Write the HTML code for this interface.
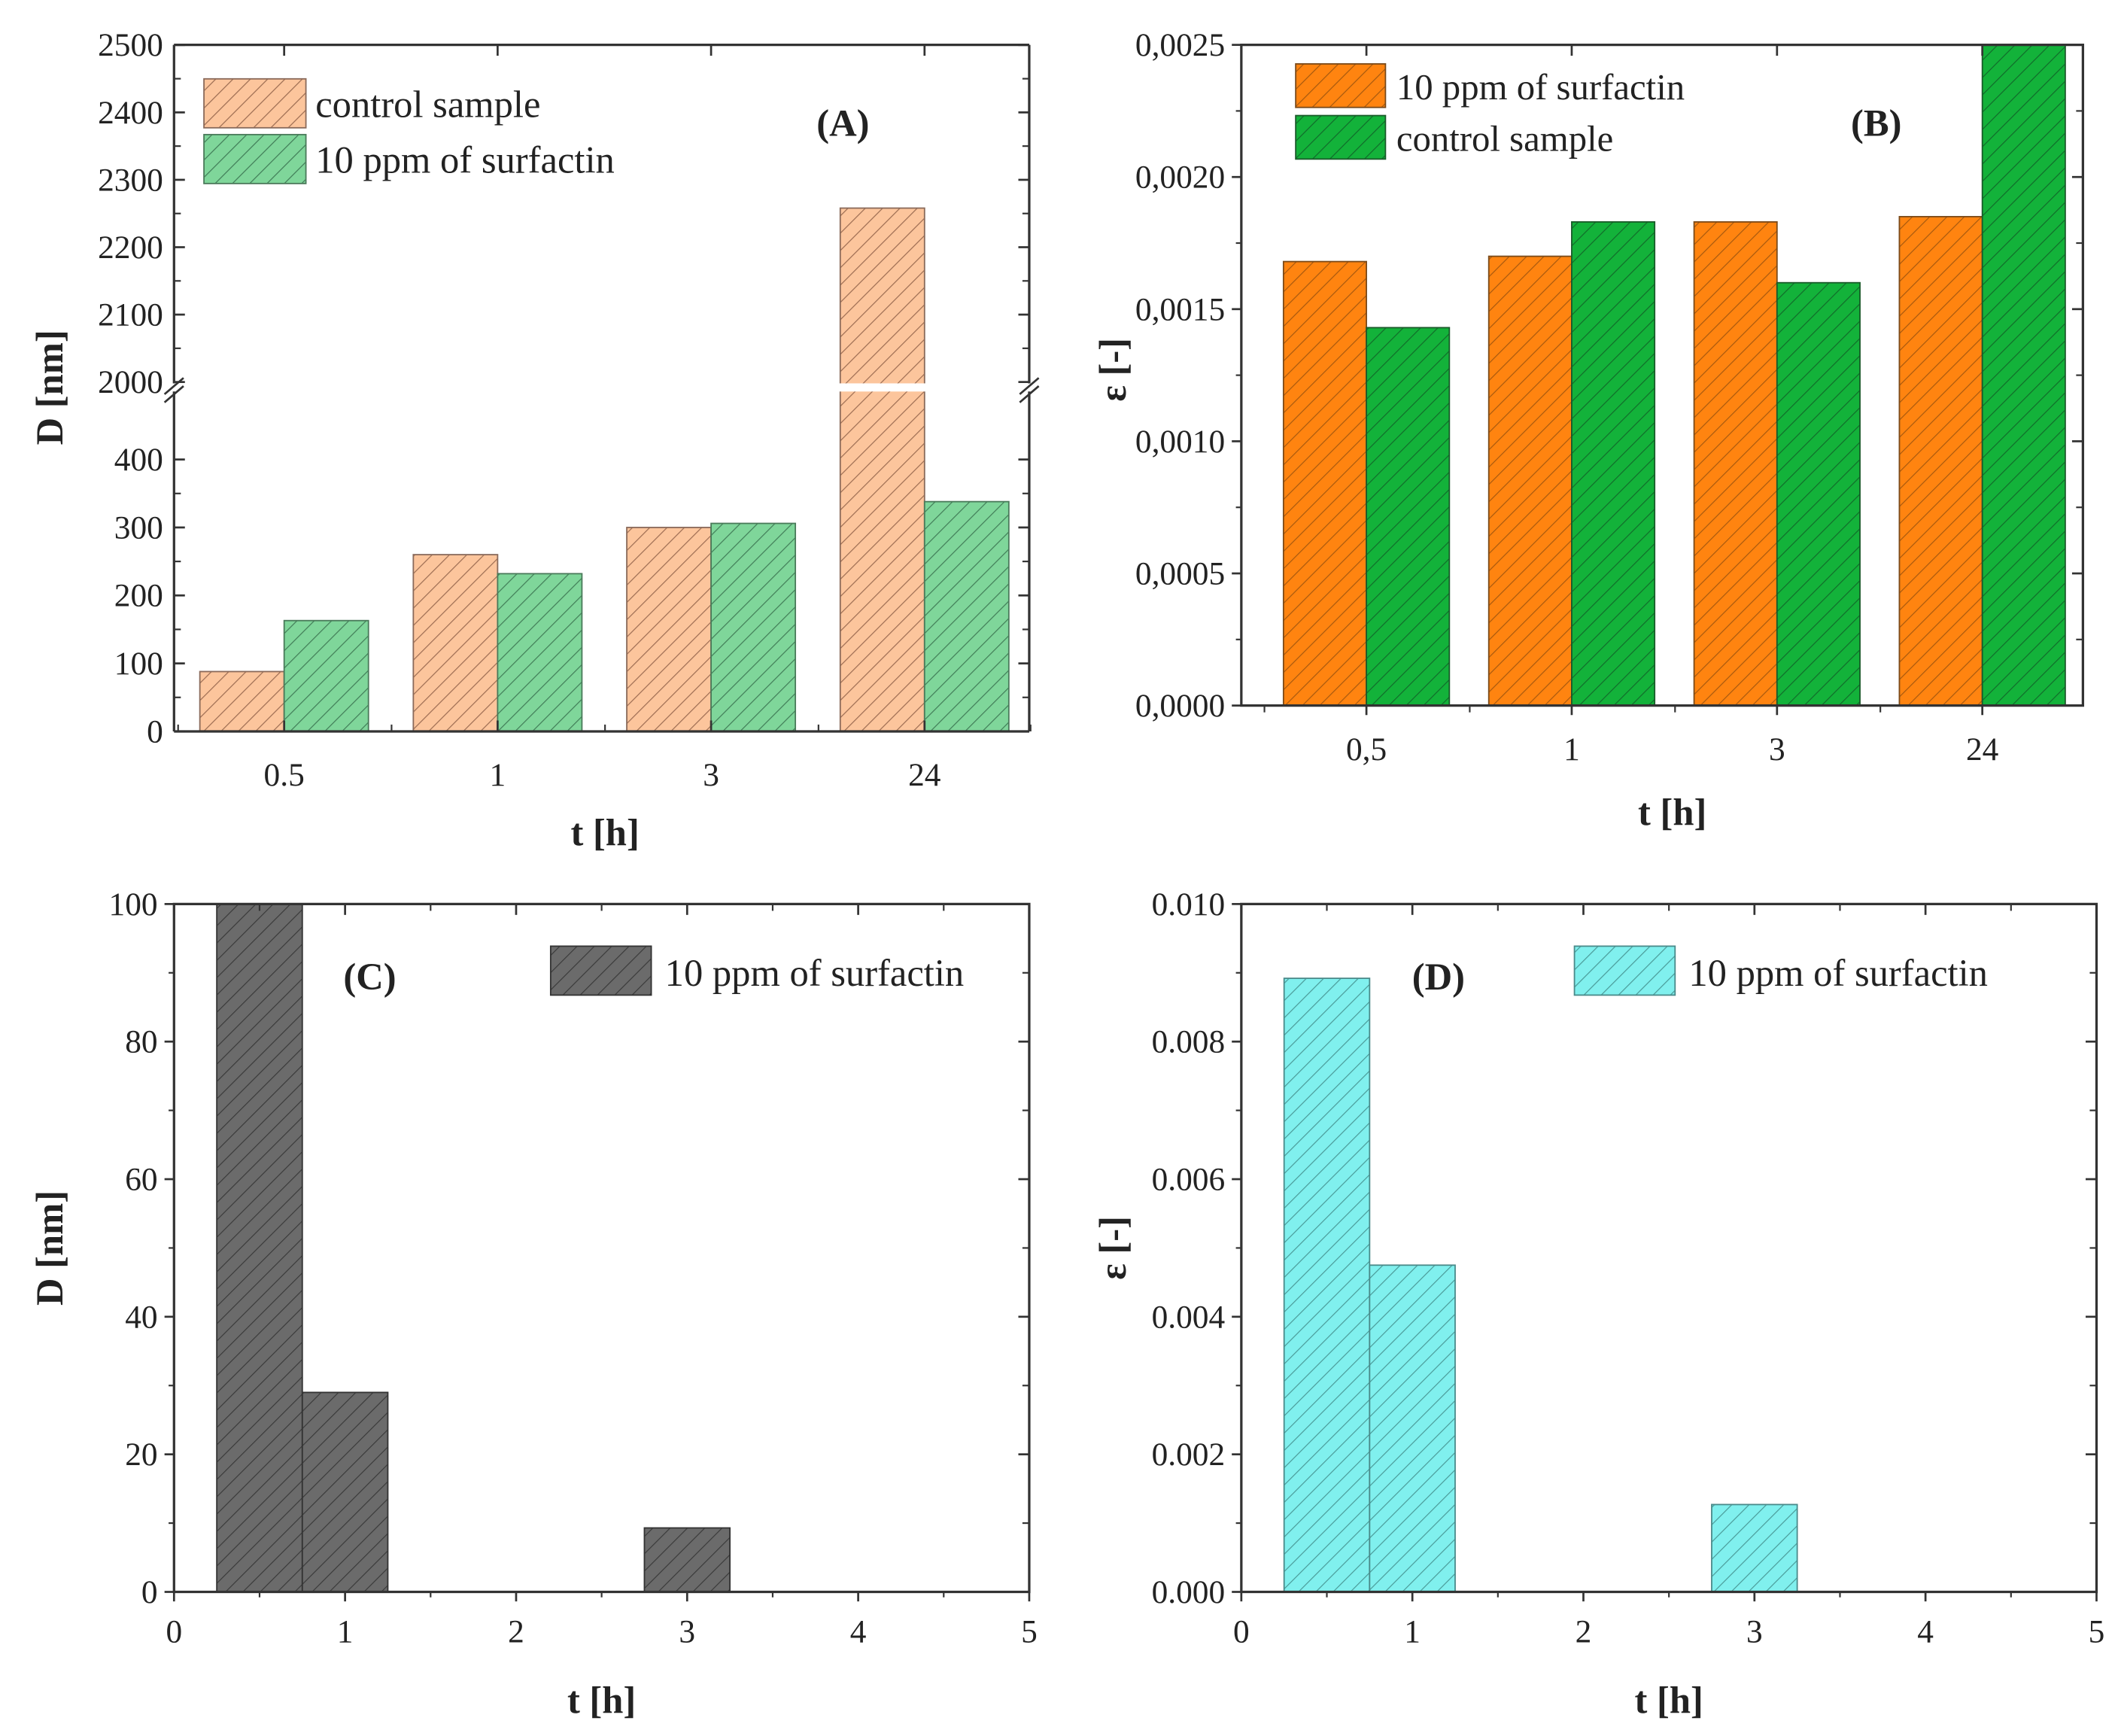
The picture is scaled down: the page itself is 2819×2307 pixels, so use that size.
<!DOCTYPE html>
<html><head><meta charset="utf-8"><style>
html,body{margin:0;padding:0;background:#fff}
svg{display:block}
text{font-family:"Liberation Serif",serif;fill:#222}
</style></head><body>
<svg id="fig" width="2819" height="2307" viewBox="0 0 1560 1277" preserveAspectRatio="none" xmlns="http://www.w3.org/2000/svg">
<defs>
<pattern id="hA1" patternUnits="userSpaceOnUse" width="9" height="9" patternTransform="rotate(45)"><rect width="9" height="9" fill="#fcc59c"/><line x1="0" y1="0" x2="0" y2="9" stroke="#9a6a50" stroke-width="1.3"/></pattern>
<pattern id="hA2" patternUnits="userSpaceOnUse" width="9" height="9" patternTransform="rotate(45)"><rect width="9" height="9" fill="#7fd69a"/><line x1="0" y1="0" x2="0" y2="9" stroke="#3f7a55" stroke-width="1.3"/></pattern>
<pattern id="hB1" patternUnits="userSpaceOnUse" width="9" height="9" patternTransform="rotate(45)"><rect width="9" height="9" fill="#ff8410"/><line x1="0" y1="0" x2="0" y2="9" stroke="#a5580f" stroke-width="1.3"/></pattern>
<pattern id="hB2" patternUnits="userSpaceOnUse" width="9" height="9" patternTransform="rotate(45)"><rect width="9" height="9" fill="#13b23a"/><line x1="0" y1="0" x2="0" y2="9" stroke="#116a2a" stroke-width="1.3"/></pattern>
<pattern id="hC" patternUnits="userSpaceOnUse" width="9" height="9" patternTransform="rotate(45)"><rect width="9" height="9" fill="#6b6b6b"/><line x1="0" y1="0" x2="0" y2="9" stroke="#3a3a3a" stroke-width="1.3"/></pattern>
<pattern id="hD" patternUnits="userSpaceOnUse" width="9" height="9" patternTransform="rotate(45)"><rect width="9" height="9" fill="#80f0ee"/><line x1="0" y1="0" x2="0" y2="9" stroke="#4a9a98" stroke-width="1.3"/></pattern>
</defs>
</svg>
<script>
const catsAB=["0.5","1","3","24"];
const catsB=["0,5","1","3","24"];
const aControl=[88,260,300,2258];
const aSurf=[163,232,306,338];
const bSurf=[0.00168,0.00170,0.00183,0.00185];
const bControl=[0.00143,0.00183,0.00160,0.0025];
const cX=[0.5,1,3];
const cVals=[100,29,9.3];
const dX=[0.5,1,3];
const dVals=[0.00892,0.00475,0.00127];
const aLowTicks=[0,100,200,300,400];
const aHighTicks=[2000,2100,2200,2300,2400,2500];
const bTicks=["0,0000","0,0005","0,0010","0,0015","0,0020","0,0025"];
const cTicks=[0,20,40,60,80,100];
const dTicks=["0.000","0.002","0.004","0.006","0.008","0.010"];
const xTicksCD=[0,1,2,3,4,5];

const svg=document.getElementById('fig');
const NS="http://www.w3.org/2000/svg";
function mk(tag,attrs,parent){const e=document.createElementNS(NS,tag);for(const k in attrs)e.setAttribute(k,attrs[k]);(parent||svg).appendChild(e);return e;}
function txt(s,x,y,size,anchor,bold,parent){const t=mk('text',{x:x,y:y,'font-size':size,'text-anchor':anchor||'middle','font-weight':bold?'bold':'normal'},parent);t.textContent=s;return t;}
function box(L,R,T,B,g){mk('rect',{x:L,y:T,width:R-L,height:B-T,fill:'none',stroke:'#333','stroke-width':1.8},g);}

// ---------- Panel A ----------
(function(){
const g=mk('g',{});


const L=128,R=757,T=33,B=538;
const yLow=v=>B-v*0.5;
const yHigh=v=>281-(v-2000)*0.4958;
const yA=v=>v<=495?yLow(v):yHigh(v);
const xC=i=>209+i*157;
const bw=62;
catsAB.forEach((c,i)=>{
  const r1=mk('rect',{x:xC(i)-bw,y:yA(aControl[i]),width:bw,height:B-yA(aControl[i]),fill:'url(#hA1)',stroke:'#8a6a5a','stroke-width':1},g);
  
  
  const r2=mk('rect',{x:xC(i),y:yA(aSurf[i]),width:bw,height:B-yA(aSurf[i]),fill:'url(#hA2)',stroke:'#4a7a5a','stroke-width':1},g);
  
  
  txt(c,xC(i),578,24,'middle',false,g);
  mk('line',{x1:xC(i),y1:B,x2:xC(i),y2:B-8,stroke:'#333','stroke-width':1.5},g);
  mk('line',{x1:xC(i),y1:T,x2:xC(i),y2:T+8,stroke:'#333','stroke-width':1.5},g);
  mk('line',{x1:xC(i)-78,y1:B,x2:xC(i)-78,y2:B-5,stroke:'#333','stroke-width':1.2},g);
});
mk('line',{x1:xC(3)+78,y1:B,x2:xC(3)+78,y2:B-5,stroke:'#333','stroke-width':1.2},g);
// break gap
mk('rect',{x:L-6,y:282,width:R-L+12,height:6,fill:'#fff'},g);
mk('line',{x1:L,y1:T,x2:R,y2:T,stroke:'#333','stroke-width':1.8},g);
mk('line',{x1:L,y1:B,x2:R,y2:B,stroke:'#333','stroke-width':1.8},g);
mk('line',{x1:L,y1:T,x2:L,y2:282,stroke:'#333','stroke-width':1.8},g);
mk('line',{x1:L,y1:288,x2:L,y2:B,stroke:'#333','stroke-width':1.8},g);
mk('line',{x1:R,y1:T,x2:R,y2:282,stroke:'#333','stroke-width':1.8},g);
mk('line',{x1:R,y1:288,x2:R,y2:B,stroke:'#333','stroke-width':1.8},g);
[L,R].forEach(x=>{mk('line',{x1:x-7,y1:290,x2:x+7,y2:278,stroke:'#333','stroke-width':1.5},g);mk('line',{x1:x-7,y1:296,x2:x+7,y2:284,stroke:'#333','stroke-width':1.5},g);});
aLowTicks.forEach(v=>{const y=yLow(v);mk('line',{x1:L,y1:y,x2:L+8,y2:y,stroke:'#333','stroke-width':1.5},g);mk('line',{x1:R,y1:y,x2:R-8,y2:y,stroke:'#333','stroke-width':1.5},g);txt(String(v),L-8,y+8,24,'end',false,g);
 if(v<400){const y2=yLow(v+50);mk('line',{x1:L,y1:y2,x2:L+5,y2:y2,stroke:'#333','stroke-width':1.2},g);mk('line',{x1:R,y1:y2,x2:R-5,y2:y2,stroke:'#333','stroke-width':1.2},g);}});
aHighTicks.forEach(v=>{const y=yHigh(v);mk('line',{x1:L,y1:y,x2:L+8,y2:y,stroke:'#333','stroke-width':1.5},g);mk('line',{x1:R,y1:y,x2:R-8,y2:y,stroke:'#333','stroke-width':1.5},g);txt(String(v),L-8,y+8,24,'end',false,g);
 if(v<2500){const y2=yHigh(v+50);mk('line',{x1:L,y1:y2,x2:L+5,y2:y2,stroke:'#333','stroke-width':1.2},g);mk('line',{x1:R,y1:y2,x2:R-5,y2:y2,stroke:'#333','stroke-width':1.2},g);}});
const lg=mk('g',{},g);
mk('rect',{x:150,y:58,width:75,height:36,fill:'url(#hA1)',stroke:'#8a6a5a'},lg);
mk('rect',{x:150,y:99,width:75,height:36,fill:'url(#hA2)',stroke:'#4a7a5a'},lg);
txt('control sample',232,86,28,'start',false,lg);
txt('10 ppm of surfactin',232,127,28,'start',false,lg);
txt('(A)',620,100,28,'middle',true,g);
const yt=txt('D [nm]',0,0,28,'middle',true,g);yt.setAttribute('transform','translate(46,285) rotate(-90)');
txt('t [h]',445,622,28,'middle',true,g);
})();

// ---------- Panel B ----------
(function(){
const g=mk('g',{});


const L=913,R=1532,T=33,B=519;
const y=v=>B-v/0.0025*(B-T);
const xC=i=>1005+i*151;
const bw=61;
catsB.forEach((c,i)=>{
  const r1=mk('rect',{x:xC(i)-bw,y:y(bSurf[i]),width:bw,height:B-y(bSurf[i]),fill:'url(#hB1)',stroke:'#7a4a1a','stroke-width':1},g);
  
  
  const r2=mk('rect',{x:xC(i),y:y(bControl[i]),width:bw,height:B-y(bControl[i]),fill:'url(#hB2)',stroke:'#1a5a2a','stroke-width':1},g);
  
  
  txt(c,xC(i),559,24,'middle',false,g);
  mk('line',{x1:xC(i),y1:B,x2:xC(i),y2:B+7,stroke:'#333','stroke-width':1.5},g);
  mk('line',{x1:xC(i),y1:T,x2:xC(i),y2:T+8,stroke:'#333','stroke-width':1.5},g);
  mk('line',{x1:xC(i)-75,y1:B,x2:xC(i)-75,y2:B+5,stroke:'#333','stroke-width':1.2},g);
});
bTicks.forEach((s,i)=>{const yy=y(i*0.0005);mk('line',{x1:L-7,y1:yy,x2:L,y2:yy,stroke:'#333','stroke-width':1.5},g);mk('line',{x1:R,y1:yy,x2:R-8,y2:yy,stroke:'#333','stroke-width':1.5},g);txt(s,L-12,yy+8,24,'end',false,g);
 if(i<5){const y2=y(i*0.0005+0.00025);mk('line',{x1:L-4,y1:y2,x2:L,y2:y2,stroke:'#333','stroke-width':1.2},g);mk('line',{x1:R,y1:y2,x2:R-5,y2:y2,stroke:'#333','stroke-width':1.2},g);}});
box(L,R,T,B,g);
const lg=mk('g',{},g);
mk('rect',{x:953,y:47,width:66,height:32,fill:'url(#hB1)',stroke:'#7a4a1a'},lg);
mk('rect',{x:953,y:85,width:66,height:32,fill:'url(#hB2)',stroke:'#1a5a2a'},lg);
txt('10 ppm of surfactin',1027,73,27,'start',false,lg);
txt('control sample',1027,111,27,'start',false,lg);
txt('(B)',1380,100,28,'middle',true,g);
const yt=txt('ε [-]',0,0,28,'middle',true,g);yt.setAttribute('transform','translate(828,272) rotate(-90)');
txt('t [h]',1230,607,28,'middle',true,g);
})();

// ---------- Panels C & D ----------
function histPanel(name,L,R,xs,vals,maxV,ticks,fill,stroke,legX,label,labX,yTitle,yTitleX){
const g=mk('g',{});


const T=665,B=1171;
const x=v=>L+v/5*(R-L);
const y=v=>B-v/maxV*(B-T);
xs.forEach((xv,i)=>{
  const r=mk('rect',{x:x(xv-0.25),y:y(vals[i]),width:x(xv+0.25)-x(xv-0.25),height:B-y(vals[i]),fill:fill,stroke:stroke,'stroke-width':1},g);
  
  
});
xTicksCD.forEach(v=>{const xx=x(v);mk('line',{x1:xx,y1:B,x2:xx,y2:B+7,stroke:'#333','stroke-width':1.5},g);mk('line',{x1:xx,y1:T,x2:xx,y2:T+8,stroke:'#333','stroke-width':1.5},g);txt(String(v),xx,1208,24,'middle',false,g);
 if(v<5){const x2=x(v+0.5);mk('line',{x1:x2,y1:B,x2:x2,y2:B+4,stroke:'#333','stroke-width':1.2},g);mk('line',{x1:x2,y1:T,x2:x2,y2:T+5,stroke:'#333','stroke-width':1.2},g);}});
ticks.forEach((s,i)=>{const yy=B-i/(ticks.length-1)*(B-T);mk('line',{x1:L-7,y1:yy,x2:L,y2:yy,stroke:'#333','stroke-width':1.5},g);mk('line',{x1:R,y1:yy,x2:R-8,y2:yy,stroke:'#333','stroke-width':1.5},g);txt(String(s),L-12,yy+8,24,'end',false,g);
 if(i<ticks.length-1){const y2=yy-(B-T)/(ticks.length-1)/2;mk('line',{x1:L-4,y1:y2,x2:L,y2:y2,stroke:'#333','stroke-width':1.2},g);mk('line',{x1:R,y1:y2,x2:R-5,y2:y2,stroke:'#333','stroke-width':1.2},g);}});
box(L,R,T,B,g);
const lg=mk('g',{},g);
mk('rect',{x:legX,y:696,width:74,height:36,fill:fill,stroke:stroke},lg);
txt('10 ppm of surfactin',legX+84,725,28,'start',false,lg);
txt(label,labX,728,28,'middle',true,g);
const yt=txt(yTitle,0,0,28,'middle',true,g);yt.setAttribute('transform','translate('+yTitleX+',918) rotate(-90)');
txt('t [h]',(L+R)/2-(name==='panel-c'?0:0),1260,28,'middle',true,g);
}
histPanel('panel-c',128,757,cX,cVals,100,cTicks,'url(#hC)','#333',405,'(C)',272,'D [nm]',46);
histPanel('panel-d',913,1542,dX,dVals,0.010,dTicks,'url(#hD)','#4a8a8a',1158,'(D)',1058,'ε [-]',828);
</script>
</body></html>
